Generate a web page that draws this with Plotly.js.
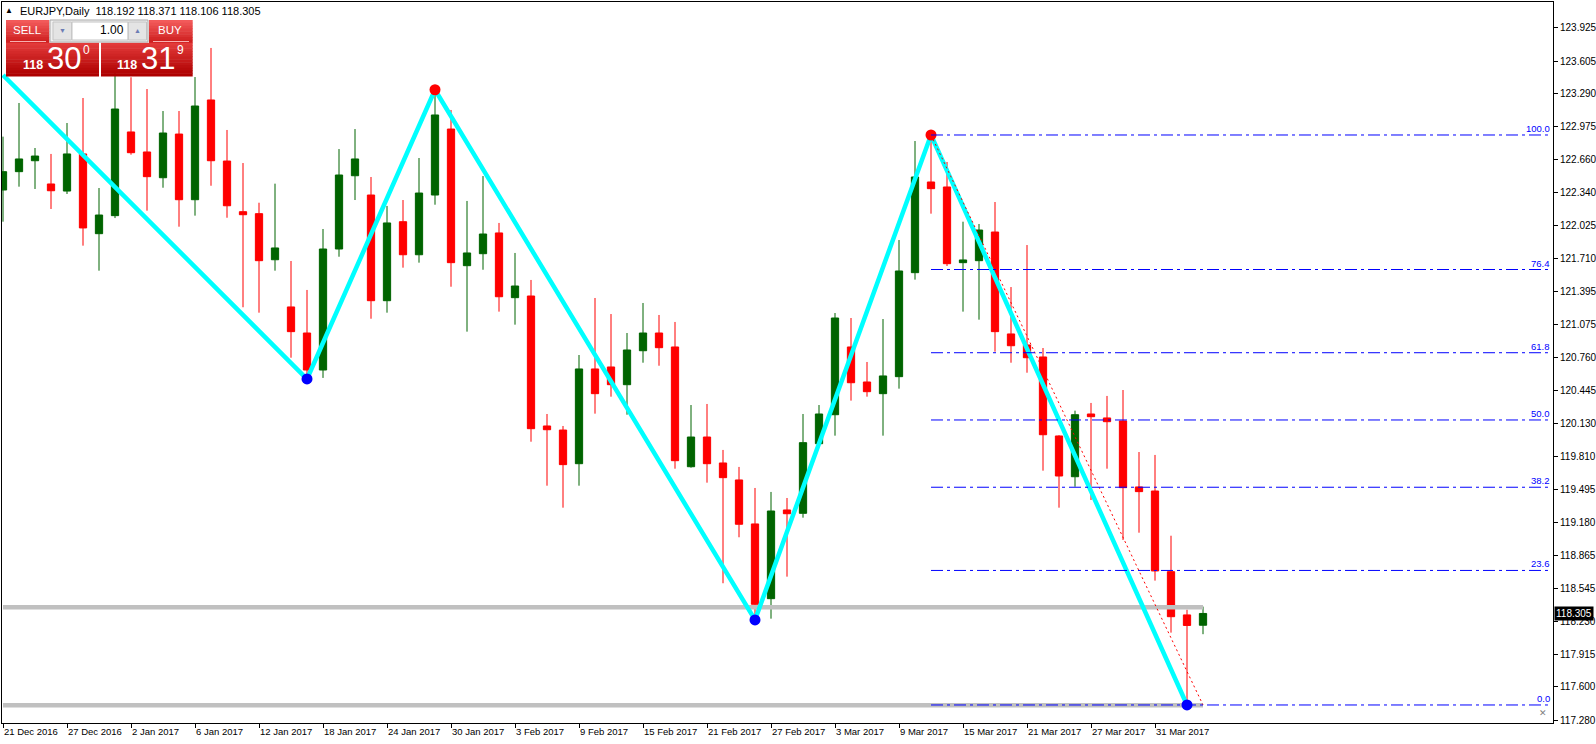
<!DOCTYPE html>
<html><head><meta charset="utf-8">
<script src="https://cdn.plot.ly/plotly-3.0.1.min.js"></script>
<style>html,body{margin:0;padding:0;background:#fff;overflow:hidden}#chart{width:1596px;height:744px}</style>
</head><body><div id="chart"></div>
<script>
// ---------------- data ----------------
const symbol = "EURJPY,Daily";
const dates = ["2016-12-21","2016-12-22","2016-12-23","2016-12-26","2016-12-27","2016-12-28","2016-12-29","2016-12-30",
"2017-01-02","2017-01-03","2017-01-04","2017-01-05","2017-01-06","2017-01-09","2017-01-10","2017-01-11","2017-01-12","2017-01-13",
"2017-01-16","2017-01-17","2017-01-18","2017-01-19","2017-01-20","2017-01-23","2017-01-24","2017-01-25","2017-01-26","2017-01-27",
"2017-01-30","2017-01-31","2017-02-01","2017-02-02","2017-02-03","2017-02-06","2017-02-07","2017-02-08","2017-02-09","2017-02-10",
"2017-02-13","2017-02-14","2017-02-15","2017-02-16","2017-02-17","2017-02-20","2017-02-21","2017-02-22","2017-02-23","2017-02-24",
"2017-02-27","2017-02-28","2017-03-01","2017-03-02","2017-03-03","2017-03-06","2017-03-07","2017-03-08","2017-03-09","2017-03-10",
"2017-03-13","2017-03-14","2017-03-15","2017-03-16","2017-03-17","2017-03-20","2017-03-21","2017-03-22","2017-03-23","2017-03-24",
"2017-03-27","2017-03-28","2017-03-29","2017-03-30","2017-03-31","2017-04-03","2017-04-04","2017-04-05"];
const open = [122.368,122.544,122.649,122.426,122.358,122.714,121.949,122.122,122.925,122.733,122.486,122.905,122.275,123.232,122.646,122.160,122.141,121.699,121.246,120.996,
120.641,121.802,122.505,122.320,121.306,122.064,121.747,122.320,122.953,121.642,121.757,121.956,121.335,121.351,120.104,120.065,119.742,120.651,120.670,120.500,
120.826,120.996,120.862,119.713,119.998,119.749,119.586,119.164,118.447,119.298,119.266,119.934,120.212,120.862,120.526,120.414,120.577,121.575,122.445,122.397,
121.671,121.690,121.965,120.987,120.881,120.766,120.008,119.617,120.219,120.181,120.152,119.519,119.480,118.706,118.291,118.192];
const high = [122.880,123.203,122.771,122.714,123.011,123.251,122.387,123.500,123.450,123.337,123.126,123.126,123.452,123.731,122.944,122.627,122.246,122.429,121.687,121.409,
121.994,122.761,122.953,122.493,122.215,122.272,122.675,123.330,123.136,122.263,122.502,122.052,121.764,121.505,120.219,120.104,120.785,121.332,121.178,120.996,
121.284,121.169,121.102,120.305,120.315,119.874,119.711,119.509,119.471,119.413,120.219,120.305,121.188,121.140,120.718,121.130,121.888,122.838,122.896,122.637,
122.064,122.042,122.253,121.437,121.840,120.852,120.015,120.251,120.325,120.392,120.449,119.854,119.826,119.051,118.341,118.371];
const low = [122.064,122.400,122.378,122.186,122.330,121.834,121.594,122.099,122.707,122.170,122.390,122.016,122.122,122.409,122.102,121.243,121.191,121.594,120.759,120.555,
120.565,121.728,122.272,121.133,121.191,121.623,121.671,122.227,121.440,121.009,121.603,121.201,121.076,119.953,119.531,119.320,119.531,120.222,120.385,120.212,
120.711,120.682,119.694,119.704,119.560,118.595,119.036,118.243,118.255,118.658,119.224,119.912,120.011,120.347,120.385,120.011,120.462,121.508,122.141,121.639,
121.201,121.124,120.817,120.711,120.615,119.675,119.320,119.521,119.394,119.694,119.010,119.080,118.620,118.121,117.427,118.106];
const close = [122.544,122.666,122.694,122.361,122.714,122.004,122.128,123.145,122.726,122.496,122.915,122.275,123.174,122.649,122.217,122.131,121.690,121.812,121.009,120.641,
121.802,122.512,122.666,121.306,122.052,121.747,122.339,123.088,121.671,121.764,121.946,121.344,121.447,120.078,120.068,119.733,120.651,120.414,120.500,120.833,
120.996,120.855,119.771,119.998,119.742,119.608,119.161,118.393,119.288,119.262,119.944,120.219,121.140,120.519,120.433,120.584,121.591,122.493,122.381,121.661,
121.697,121.984,121.009,120.874,120.759,120.020,119.624,120.212,120.193,120.145,119.512,119.474,118.713,118.274,118.190,118.305];

const tickDates = ["2016-12-21","2016-12-27","2017-01-02","2017-01-06","2017-01-12","2017-01-18","2017-01-24","2017-01-30","2017-02-03",
"2017-02-09","2017-02-15","2017-02-21","2017-02-27","2017-03-03","2017-03-09","2017-03-15","2017-03-21","2017-03-27","2017-03-31"];
const tickLabels = ["21 Dec 2016","27 Dec 2016","2 Jan 2017","6 Jan 2017","12 Jan 2017","18 Jan 2017","24 Jan 2017","30 Jan 2017","3 Feb 2017",
"9 Feb 2017","15 Feb 2017","21 Feb 2017","27 Feb 2017","3 Mar 2017","9 Mar 2017","15 Mar 2017","21 Mar 2017","27 Mar 2017","31 Mar 2017"];
const priceTicks = [123.925,123.605,123.290,122.975,122.660,122.340,122.025,121.710,121.395,121.075,120.760,120.445,120.130,119.810,119.495,119.180,118.865,118.545,118.230,117.915,117.600,117.280];

// zigzag pivots
const zigzagDates = ["2016-12-21","2017-01-17","2017-01-27","2017-02-24","2017-03-13","2017-04-04"];
const zigzagPrices = [123.471,120.555,123.330,118.243,122.896,117.427];
const pivotHighDates = ["2017-01-27","2017-03-13"];
const pivotHighPrices = [123.330,122.896];
const pivotLowDates = ["2017-01-17","2017-02-24","2017-04-04"];
const pivotLowPrices = [120.555,118.243,117.427];

// fibonacci retracement
const fibStartDate = "2017-03-13", fibEndDate = "2017-04-05";
const fibHigh = 122.896, fibLow = 117.427;
const fibLevels = [0.0, 23.6, 38.2, 50.0, 61.8, 76.4, 100.0];

// horizontal support lines
const supportLevels = [118.364, 117.424];

const bid = 118.300, ask = 118.319, lots = "1.00";

// ---------------- layout helpers ----------------
const PL = 2, PT = 2, PW = 1551, PH = 721;
const px = x => (x - PL) / PW;
const py = y => 1 - (y - PT) / PH;
const shapes = [], annotations = [];
const FONT = "Liberation Sans, Arial, sans-serif";

function rect(x0, y0, x1, y1, fill, line, lw) {
  shapes.push({type:'rect', xref:'paper', yref:'paper', x0:px(x0), x1:px(x1), y0:py(y1), y1:py(y0),
    fillcolor:fill, line:{color:line||fill, width:lw||0}, layer:'above'});
}
function hex(c){return [parseInt(c.slice(1,3),16),parseInt(c.slice(3,5),16),parseInt(c.slice(5,7),16)];}
function grad(x0, y0, x1, y1, c0, c1, n) {
  const a = hex(c0), b = hex(c1);
  for (let k = 0; k < n; k++) {
    const t = k/(n-1);
    const c = 'rgb(' + a.map((v,j)=>Math.round(v+(b[j]-v)*t)).join(',') + ')';
    rect(x0, y0 + (y1-y0)*k/n, x1, y0 + (y1-y0)*(k+1)/n + 0.5, c);
  }
}
function ann(text, x, y, size, color, opts) {
  annotations.push(Object.assign({xref:'paper', yref:'paper', x:px(x), y:py(y), text:text, showarrow:false,
    font:{family:FONT, size:size, color:color}, xanchor:'center', yanchor:'middle'}, opts||{}));
}
function hline(x0, y0, x1, color, w) {
  shapes.push({type:'line', xref:'paper', yref:'paper', x0:px(x0), x1:px(x1), y0:py(y0), y1:py(y0), line:{color:color, width:w}, layer:'above'});
}

// ---------------- traces ----------------
const traces = [];
traces.push({type:'candlestick', x:dates, open:open, high:high, low:low, close:close,
  increasing:{line:{color:'#006400', width:1}, fillcolor:'#006400'},
  decreasing:{line:{color:'#ff0000', width:1}, fillcolor:'#ff0000'},
  whiskerwidth:0, hoverinfo:'skip', showlegend:false});

supportLevels.forEach(v => traces.push({type:'scatter', mode:'lines', x:[dates[0], dates[dates.length-1]], y:[v, v],
  line:{color:'#c0c0c0', width:4.5}, hoverinfo:'skip', showlegend:false}));

traces.push({type:'scatter', mode:'lines', x:zigzagDates, y:zigzagPrices, line:{color:'#00ffff', width:4.5},
  hoverinfo:'skip', showlegend:false});
traces.push({type:'scatter', mode:'lines', x:[fibStartDate, fibEndDate], y:[fibHigh, fibLow],
  line:{color:'#ff0000', width:1, dash:'2px,3px'}, hoverinfo:'skip', showlegend:false});
traces.push({type:'scatter', mode:'markers', x:pivotHighDates, y:pivotHighPrices, marker:{color:'#ff0000', size:11},
  hoverinfo:'skip', showlegend:false, cliponaxis:false});
traces.push({type:'scatter', mode:'markers', x:pivotLowDates, y:pivotLowPrices, marker:{color:'#0000ff', size:11},
  hoverinfo:'skip', showlegend:false, cliponaxis:false});

// fib level lines + labels
const fibStartIdx = dates.indexOf(fibStartDate);
const xRange = [-0.0625, 96.875];
fibLevels.forEach(lv => {
  const v = fibLow + (fibHigh - fibLow) * lv / 100;
  shapes.push({type:'line', xref:'x', yref:'y', x0:fibStartIdx, x1:96.56, y0:v, y1:v,
    line:{color:'#0000ff', width:1, dash:'12px,4px,3px,4px'}, layer:'above'});
  annotations.push({xref:'paper', yref:'y', x:px(1552), y:v, text:lv.toFixed(1), showarrow:false,
    xanchor:'right', yanchor:'bottom', yshift:-1, font:{family:FONT, size:9.5, color:'#0000ff'}});
});

// last price label
annotations.push({xref:'paper', yref:'y', x:1, xanchor:'left', xshift:1, y:close[close.length-1], yanchor:'middle',
  text:close[close.length-1].toFixed(3), showarrow:false, bgcolor:'#000000', borderpad:1,
  font:{family:FONT, size:10, color:'#ffffff'}});

// header text
const last = dates.length - 1;
ann('▲', 9, 11, 8, '#000000');
ann(symbol + '  ' + [open[last], high[last], low[last], close[last]].map(v=>v.toFixed(3)).join(' '), 18, 11, 11, '#000000', {xanchor:'left'});

// trade panel
grad(6, 20, 49.3, 42.7, '#f25a5a', '#cf2020', 8);
grad(149, 20, 192.7, 42.7, '#f25a5a', '#cf2020', 8);
hline(10, 41.5, 46, '#f7b0b0', 1);
hline(153, 41.5, 189, '#f7b0b0', 1);
grad(6, 42.7, 99, 76, '#e23a3a', '#ae0000', 12);
grad(101, 42.7, 192.7, 76, '#e23a3a', '#ae0000', 12);
rect(50, 20, 148, 42, '#f0f0f0', '#a8a8a8', 1);
rect(53, 22, 71.7, 40, '#e4e4e4', '#c4c4c4', 1);
rect(72, 22, 128, 40, '#ffffff', '#c4c4c4', 1);
rect(128.3, 22, 146.5, 40, '#e4e4e4', '#c4c4c4', 1);
ann('▼', 62.5, 30.5, 7, '#6c7cb4');
ann('▲', 137.5, 30.5, 7, '#6c7cb4');
ann(lots, 126, 30, 12, '#000000', {xanchor:'right'});
ann('SELL', 27, 30.5, 11.5, '#ffffff');
ann('BUY', 169.5, 30.5, 11.5, '#ffffff');
const bidStr = bid.toFixed(3), askStr = ask.toFixed(3);
ann(bidStr.slice(0,3), 32.7, 65, 12.5, '#ffffff', {font:{family:FONT, size:12.5, color:'#ffffff', weight:700}});
ann(bidStr.slice(4,6), 64, 58.5, 31, '#ffffff');
ann(bidStr.slice(6), 86, 50.5, 12, '#ffffff');
ann(askStr.slice(0,3), 126.7, 65, 12.5, '#ffffff', {font:{family:FONT, size:12.5, color:'#ffffff', weight:700}});
ann(askStr.slice(4,6), 158.3, 58.5, 31, '#ffffff');
ann(askStr.slice(6), 180, 50.5, 12, '#ffffff');
ann('✕', 1543, 713, 9, '#808080');

const layout = {
  width:1596, height:744, margin:{l:PL, r:1596-PL-PW, t:PT, b:744-PT-PH, pad:0},
  paper_bgcolor:'#ffffff', plot_bgcolor:'#ffffff', showlegend:false, boxgap:0.35,
  xaxis:{type:'category', range:xRange, showgrid:false, zeroline:false, showline:true, linecolor:'#000000', linewidth:1, mirror:true,
    ticks:'outside', ticklen:4, tickcolor:'#000000', tickwidth:1, tickmode:'array', tickvals:tickDates, ticktext:tickLabels,
    ticklabelposition:'outside right', tickfont:{family:FONT, size:9.5, color:'#000000'}, rangeslider:{visible:false}, fixedrange:true},
  yaxis:{side:'right', range:[117.254, 124.172], showgrid:false, zeroline:false, showline:true, linecolor:'#000000', linewidth:1, mirror:true,
    ticks:'outside', ticklen:4, tickcolor:'#000000', tickwidth:1, tickmode:'array', tickvals:priceTicks, ticktext:priceTicks.map(v=>v.toFixed(3)),
    tickfont:{family:FONT, size:10, color:'#000000'}, fixedrange:true},
  shapes:shapes, annotations:annotations
};
Plotly.newPlot('chart', traces, layout, {staticPlot:true, displayModeBar:false});
</script></body></html>
